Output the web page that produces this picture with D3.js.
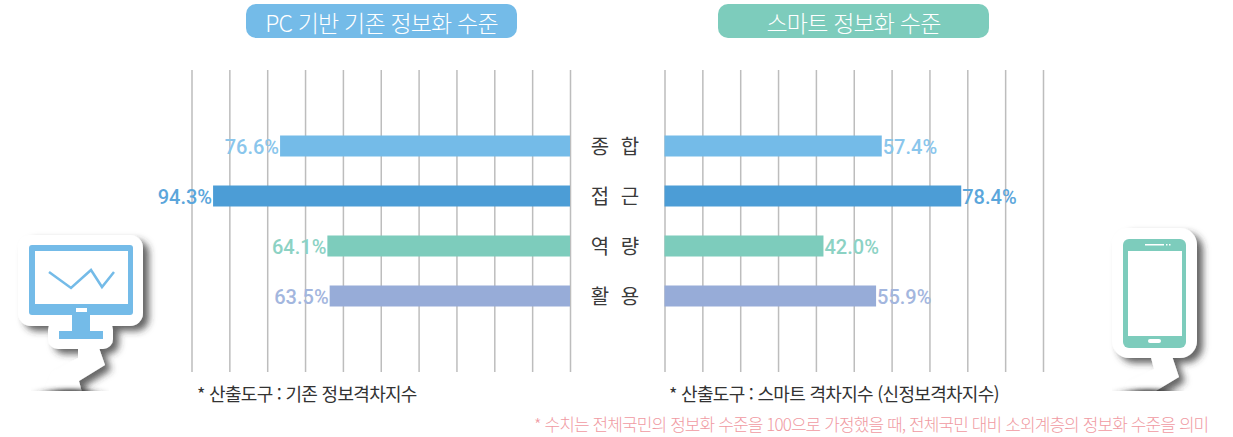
<!DOCTYPE html>
<html lang="ko">
<head>
<meta charset="utf-8">
<script src="https://cdn.jsdelivr.net/npm/d3@7"></script>
<style>
html, body { margin: 0; padding: 0; background: #fff; }
svg { display: block; }
text { font-family: "Noto Sans CJK KR", sans-serif; }
</style>
</head>
<body>
<div id="chart"></div>
<script>
// DATA
const categories = ['종 합', '접 근', '역 량', '활 용'];
const pcValues = [76.6, 94.3, 64.1, 63.5];
const smartValues = [57.4, 78.4, 42.0, 55.9];
const barColors = ['#74bbe8', '#4c9dd6', '#7dccbc', '#97acd8'];
const labelColors = ['#8ac6ec', '#5ba6db', '#8cd2c4', '#a3b6de'];
const gridTicks = [0, 10, 20, 30, 40, 50, 60, 70, 80, 90, 100];
const titles = ['PC 기반 기존 정보화 수준', '스마트 정보화 수준'];
const notes = ['* 산출도구 : 기존 정보격차지수', '* 산출도구 : 스마트 격차지수 (신정보격차지수)'];
const footnote = '* 수치는 전체국민의 정보화 수준을 100으로 가정했을 때, 전체국민 대비 소외계층의 정보화 수준을 의미';

const width = 1233, height = 437;
const gridTop = 70, gridBottom = 372;

const svg = d3.select('#chart').append('svg')
    .attr('width', width)
    .attr('height', height)
    .attr('viewBox', `0 0 ${width} ${height}`);

// SCALES
const xLeft = d3.scaleLinear().domain([0, 100]).range([570, 191.5]);
const xRight = d3.scaleLinear().domain([0, 100]).range([664.5, 1043]);
const y = d3.scaleBand().domain(categories).range([121, 321]).paddingInner(0.58).paddingOuter(0.29);

// SHADOW + ICONS
const defs = svg.append('defs');
const shadow = defs.append('filter').attr('id', 'shadow')
    .attr('x', '-20%').attr('y', '-20%').attr('width', '150%').attr('height', '150%');
shadow.append('feDropShadow')
    .attr('dx', 6).attr('dy', 5).attr('stdDeviation', 3.5)
    .attr('flood-color', '#333').attr('flood-opacity', 0.75);
defs.append('filter').attr('id', 'smear')
    .attr('x', '-30%').attr('y', '-150%').attr('width', '160%').attr('height', '400%')
    .append('feGaussianBlur').attr('stdDeviation', '9 2');

function drawMonitor() {
    const g = svg.append('g');
    const back = g.append('g').attr('filter', 'url(#shadow)').attr('fill', '#fff');
    back.append('path').attr('d', 'M78,345 L98,345 L105,365 L79,381 L84,400 L40,400 L52,372 L78,358 Z');
    back.append('rect').attr('x', 48).attr('y', 320).attr('width', 65).attr('height', 29).attr('rx', 10);
    back.append('rect').attr('x', 18).attr('y', 235).attr('width', 125).attr('height', 91).attr('rx', 13);
    g.append('ellipse').attr('cx', 70).attr('cy', 393).attr('rx', 24).attr('ry', 4)
        .attr('fill', '#333').attr('filter', 'url(#smear)');
    g.append('rect').attr('x', 29).attr('y', 245).attr('width', 104).attr('height', 70).attr('rx', 3).attr('fill', '#74bbe8');
    g.append('rect').attr('x', 35).attr('y', 251).attr('width', 93).attr('height', 53).attr('fill', '#fff');
    g.append('rect').attr('x', 76).attr('y', 308).attr('width', 11).attr('height', 4).attr('fill', '#fff');
    g.append('rect').attr('x', 72).attr('y', 314).attr('width', 18).attr('height', 20).attr('fill', '#74bbe8');
    g.append('rect').attr('x', 59).attr('y', 331).attr('width', 44).attr('height', 8).attr('fill', '#74bbe8');
    g.append('path').attr('d', 'M49,272 L71,288 L91,270 L102,287 L114,272')
        .attr('fill', 'none').attr('stroke', '#74bbe8').attr('stroke-width', 2.5);
}

function drawPhone() {
    const g = svg.append('g');
    const back = g.append('g').attr('filter', 'url(#shadow)').attr('fill', '#fff');
    back.append('path').attr('d', 'M1149,350 L1170,350 L1179,377 L1154,392 L1154,400 L1120,400 L1127,382 L1154,369 Z');
    back.append('rect').attr('x', 1112).attr('y', 228).attr('width', 85).attr('height', 130).attr('rx', 17);
    g.append('ellipse').attr('cx', 1148).attr('cy', 393).attr('rx', 22).attr('ry', 4)
        .attr('fill', '#333').attr('filter', 'url(#smear)');
    g.append('rect').attr('x', 1123).attr('y', 239).attr('width', 63).attr('height', 109).attr('rx', 6).attr('fill', '#7dccbc');
    g.append('rect').attr('x', 1128).attr('y', 251).attr('width', 54).attr('height', 85).attr('fill', '#fff');
    g.append('rect').attr('x', 1145).attr('y', 244).attr('width', 19).attr('height', 1.5).attr('fill', '#fff');
    g.append('rect').attr('x', 1166).attr('y', 244).attr('width', 1.5).attr('height', 1.5).attr('fill', '#fff');
    g.append('rect').attr('x', 1169).attr('y', 244).attr('width', 1.5).attr('height', 1.5).attr('fill', '#fff');
    g.append('rect').attr('x', 1148).attr('y', 339).attr('width', 13).attr('height', 4).attr('rx', 2).attr('fill', '#fff');
}

drawMonitor();
drawPhone();

// cut the icon tails off along the baseline
svg.append('rect').attr('x', 0).attr('y', 391).attr('width', 190).attr('height', 46).attr('fill', '#fff');
svg.append('rect').attr('x', 1090).attr('y', 391).attr('width', 143).attr('height', 46).attr('fill', '#fff');

// TITLE PILLS
[[246, titles[0], '#74bbe8'], [718, titles[1], '#7dccbc']].forEach(([px, label, color]) => {
    svg.append('rect')
        .attr('x', px).attr('y', 4).attr('width', 271).attr('height', 34).attr('rx', 10)
        .attr('fill', color);
    svg.append('text')
        .attr('x', px + 135.5).attr('y', 22)
        .attr('text-anchor', 'middle').attr('dominant-baseline', 'central')
        .attr('font-size', 23).attr('font-weight', 300).attr('letter-spacing', -0.8)
        .attr('fill', '#fff')
        .text(label);
});

// GRID + BARS
function drawSide(x, values, anchor, gap) {
    const axis = d3.axisBottom(x).tickValues(gridTicks)
        .tickSize(gridBottom - gridTop).tickFormat('');
    svg.append('g')
        .attr('transform', `translate(0,${gridTop})`)
        .call(axis)
        .call(g => g.select('.domain').remove())
        .call(g => g.selectAll('.tick line')
            .attr('stroke', '#bdbdbd').attr('stroke-width', 1.5));

    svg.append('g').selectAll('rect')
        .data(values)
        .join('rect')
        .attr('x', d => Math.min(x(0), x(d)))
        .attr('y', (d, i) => y(categories[i]))
        .attr('width', d => Math.abs(x(d) - x(0)))
        .attr('height', y.bandwidth())
        .attr('fill', (d, i) => barColors[i]);

    svg.append('g').selectAll('text')
        .data(values)
        .join('text')
        .attr('x', d => x(d) + gap)
        .attr('y', (d, i) => y(categories[i]) + y.bandwidth() / 2 + 1)
        .attr('text-anchor', anchor)
        .attr('dominant-baseline', 'central')
        .attr('font-size', 20)
        .attr('font-weight', 500)
        .style('font-family', 'Roboto, sans-serif')
        .attr('fill', (d, i) => labelColors[i])
        .text(d => d.toFixed(1) + '%');
}

drawSide(xLeft, pcValues, 'end', -1);
drawSide(xRight, smartValues, 'start', 1);

// CATEGORY LABELS
svg.append('g').selectAll('text')
    .data(categories)
    .join('text')
    .attr('x', 616.5)
    .attr('y', d => y(d) + y.bandwidth() / 2 - 1)
    .attr('text-anchor', 'middle')
    .attr('dominant-baseline', 'central')
    .attr('font-size', 20)
    .attr('letter-spacing', 3)
    .attr('fill', '#3a3a3a')
    .text(d => d);

// NOTES
[[197, notes[0]], [669, notes[1]]].forEach(([nx, label]) => {
    svg.append('text')
        .attr('x', nx).attr('y', 393)
        .attr('dominant-baseline', 'central')
        .attr('font-size', 18).attr('letter-spacing', -0.7)
        .attr('fill', '#333')
        .text(label);
});

svg.append('text')
    .attr('x', 534).attr('y', 423)
    .attr('dominant-baseline', 'central')
    .attr('font-size', 17).attr('font-weight', 300).attr('letter-spacing', -0.9)
    .attr('fill', '#f09aa2')
    .text(footnote);
</script>
</body>
</html>
